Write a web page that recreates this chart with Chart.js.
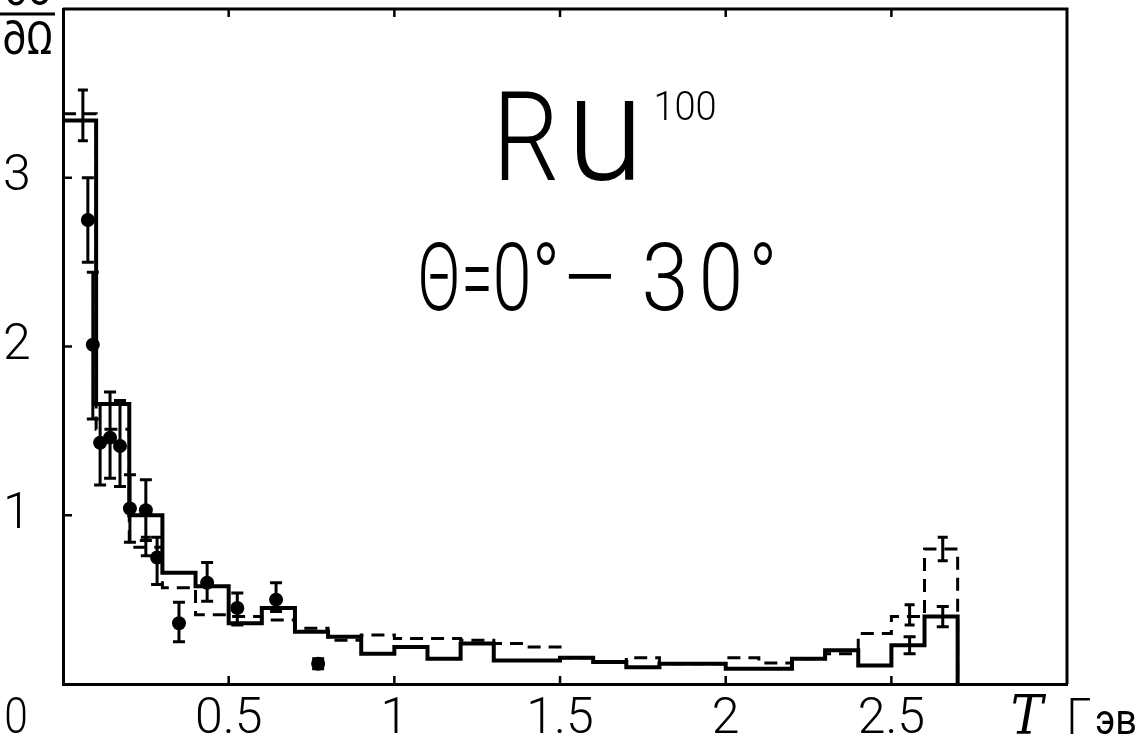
<!DOCTYPE html>
<html>
<head>
<meta charset="utf-8">
<script src="https://cdn.jsdelivr.net/npm/chart.js@4.4.1/dist/chart.umd.min.js"></script>
<style>
  html, body { margin: 0; padding: 0; background: #fff; }
  #wrap { width: 1140px; height: 744px; }
</style>
</head>
<body>
<div id="wrap"><canvas id="c" width="1140" height="744"></canvas></div>
<script>
// Гистограммы: границы бинов (ГэВ) и значения в каждом бине
const binEdges  = [0, 0.1, 0.2, 0.3, 0.4, 0.5, 0.6, 0.7, 0.8, 0.9, 1.0, 1.1, 1.2, 1.3, 1.4,
                   1.5, 1.6, 1.7, 1.8, 1.9, 2.0, 2.1, 2.2, 2.3, 2.4, 2.5, 2.6, 2.7];
const solidVals = [3.34, 1.66, 1.00, 0.66, 0.58, 0.36, 0.45, 0.31, 0.28, 0.18, 0.22, 0.15, 0.24, 0.14,
                   0.14, 0.155, 0.13, 0.10, 0.12, 0.12, 0.09, 0.09, 0.15, 0.20, 0.11, 0.23, 0.40];
const dashVals  = [3.38, 1.51, 0.81, 0.57, 0.41, 0.40, 0.38, 0.33, 0.26, 0.29, 0.27, 0.27, 0.26, 0.24,
                   0.22, 0.155, 0.13, 0.155, 0.12, 0.12, 0.155, 0.125, 0.15, 0.18, 0.30, 0.40, 0.80];

// Экспериментальные точки с ошибками
const dataX    = [0.075, 0.09, 0.112, 0.142, 0.172, 0.202, 0.25, 0.284, 0.35, 0.435, 0.526, 0.643, 0.77];
const dataY    = [2.75, 2.01, 1.43, 1.46, 1.41, 1.04, 1.03, 0.75, 0.36, 0.60, 0.45, 0.50, 0.12];
const dataHi   = [3.00, 2.44, 1.66, 1.73, 1.68, 1.24, 1.21, 0.87, 0.485, 0.72, 0.54, 0.60, 0.15];
const dataLo   = [2.50, 1.57, 1.18, 1.22, 1.17, 0.84, 0.85, 0.59, 0.25, 0.49, 0.35, 0.43, 0.09];

// Статистические ошибки гистограмм
const solidErrX  = [2.555, 2.655];
const solidErrHi = [0.28, 0.46];
const solidErrLo = [0.18, 0.34];
const dashErrX   = [0.06, 0.25, 2.555, 2.655];
const dashErrHi  = [3.52, 0.87, 0.47, 0.87];
const dashErrLo  = [3.22, 0.76, 0.35, 0.73];

// Оси
const xTickVals   = [0, 0.5, 1, 1.5, 2, 2.5];
const xTickLabels = ['', '0.5', '1', '1.5', '2', '2.5'];
const yTickVals   = [0, 1, 2, 3];
const yTickLabels = ['', '1', '2', '3'];

const FONT = 'Roboto, "DejaVu Sans", sans-serif';

function histPoints(vals) {
  return binEdges.map((x, i) => ({ x, y: i < vals.length ? vals[i] : 0 }));
}

// текст со сжатием по горизонтали (чертёжный шрифт)
function narrowText(ctx, txt, cx, base, font, sx) {
  ctx.save();
  ctx.font = font;
  ctx.translate(cx, base);
  ctx.scale(sx, 1);
  ctx.textAlign = 'center';
  ctx.textBaseline = 'alphabetic';
  ctx.fillText(txt, 0, 0);
  ctx.restore();
}

const extras = {
  id: 'extras',
  afterDatasetsDraw(chart) {
    const { ctx, chartArea: a, scales: { x, y } } = chart;
    ctx.save();
    ctx.strokeStyle = '#000';
    ctx.fillStyle = '#000';
    ctx.lineCap = 'butt';

    // рамка сверху и справа
    ctx.lineWidth = 3;
    ctx.beginPath();
    ctx.moveTo(a.left, a.top); ctx.lineTo(a.right, a.top); ctx.lineTo(a.right, a.bottom);
    ctx.stroke();

    // внутренние штрихи
    ctx.lineWidth = 2.5;
    xTickVals.slice(1).forEach(v => {
      const px = x.getPixelForValue(v);
      ctx.beginPath();
      ctx.moveTo(px, a.bottom); ctx.lineTo(px, a.bottom - 8);
      ctx.moveTo(px, a.top); ctx.lineTo(px, a.top + 8);
      ctx.stroke();
    });
    yTickVals.slice(1).forEach(v => {
      const py = y.getPixelForValue(v);
      ctx.beginPath();
      ctx.moveTo(a.left, py); ctx.lineTo(a.left + 9, py);
      ctx.stroke();
    });

    // усы ошибок
    const bar = (xs, his, los, cap, lw) => {
      ctx.lineWidth = lw;
      xs.forEach((xv, i) => {
        const px = x.getPixelForValue(xv);
        const ph = y.getPixelForValue(his[i]);
        const pl = y.getPixelForValue(los[i]);
        ctx.beginPath();
        ctx.moveTo(px, ph); ctx.lineTo(px, pl);
        ctx.moveTo(px - cap, ph); ctx.lineTo(px + cap, ph);
        ctx.moveTo(px - cap, pl); ctx.lineTo(px + cap, pl);
        ctx.stroke();
      });
    };
    bar(dataX, dataHi, dataLo, 6, 3);
    bar(solidErrX, solidErrHi, solidErrLo, 6, 3);
    bar(dashErrX, dashErrHi, dashErrLo, 5, 3);

    // подписи
    narrowText(ctx, '0', 16, 733, '300 50px ' + FONT, 0.85);

    // dσ/dΩ (обрезано сверху)
    narrowText(ctx, '∂σ', 28, 5, '46px ' + FONT, 0.9);
    narrowText(ctx, '∂Ω', 28, 54, '46px ' + FONT, 0.9);
    ctx.lineWidth = 3;
    ctx.beginPath(); ctx.moveTo(0, 14); ctx.lineTo(55, 14); ctx.stroke();

    // Ru^100
    narrowText(ctx, 'R', 526, 180, '300 124px ' + FONT, 0.85);
    narrowText(ctx, 'u', 605, 180, '300 148px ' + FONT, 0.95);
    narrowText(ctx, '100', 685, 120, '300 40px ' + FONT, 0.95);

    // Θ = 0° − 30°
    const theta = [['Θ', 439, 0.68], ['=', 477, 0.6], ['0', 512, 0.75], ['°', 546, 0.8],
                   ['−', 590, 1.1], ['3', 665, 0.9], ['0', 721, 0.85], ['°', 763, 0.8]];
    theta.forEach(([t, cx, sx]) => narrowText(ctx, t, cx, 310, '300 94px ' + FONT, sx));

    // T ГэВ
    narrowText(ctx, 'T', 1027, 734, 'italic 54px "DejaVu Serif", serif', 0.9);
    narrowText(ctx, 'Г', 1079, 734, '300 50px ' + FONT, 0.9);
    narrowText(ctx, 'эв', 1116, 734, '400 42px ' + FONT, 0.9);

    ctx.restore();
  }
};

new Chart(document.getElementById('c').getContext('2d'), {
  type: 'line',
  data: {
    datasets: [
      { data: histPoints(solidVals), stepped: 'before', borderColor: '#000', borderWidth: 4,
        pointRadius: 0, fill: false, borderCapStyle: 'butt', borderJoinStyle: 'miter' },
      { data: histPoints(dashVals), stepped: 'before', borderColor: '#000', borderWidth: 3,
        borderDash: [13, 8], pointRadius: 0, fill: false },
      { type: 'scatter', data: dataX.map((v, i) => ({ x: v, y: dataY[i] })),
        pointRadius: 7, backgroundColor: '#000', borderColor: '#000', borderWidth: 0 }
    ]
  },
  options: {
    responsive: false,
    animation: false,
    events: [],
    layout: { padding: { top: 9, right: 73, left: 3, bottom: 0 } },
    plugins: { legend: { display: false }, tooltip: { enabled: false } },
    scales: {
      x: {
        type: 'linear', min: 0, max: 3.03,
        afterBuildTicks: s => { s.ticks = xTickVals.map(v => ({ value: v })); },
        afterFit: s => { s.height = 60; s.paddingLeft = 0; s.paddingRight = 0; },
        grid: { display: false, drawTicks: false },
        border: { display: true, width: 3, color: '#000' },
        ticks: {
          autoSkip: false, maxRotation: 0, padding: 6, color: '#000',
          font: { family: FONT, size: 50, weight: 300 },
          callback: (v, i) => xTickLabels[i]
        }
      },
      y: {
        type: 'linear', min: 0, max: 4,
        afterBuildTicks: s => { s.ticks = yTickVals.map(v => ({ value: v })); },
        afterFit: s => { s.width = 60; s.paddingTop = 0; s.paddingBottom = 0; },
        grid: { display: false, drawTicks: false },
        border: { display: true, width: 3, color: '#000' },
        ticks: {
          crossAlign: 'far', padding: 0, color: '#000',
          font: { family: FONT, size: 50, weight: 300 },
          callback: (v, i) => yTickLabels[i]
        }
      }
    }
  },
  plugins: [extras]
});
</script>
</body>
</html>
